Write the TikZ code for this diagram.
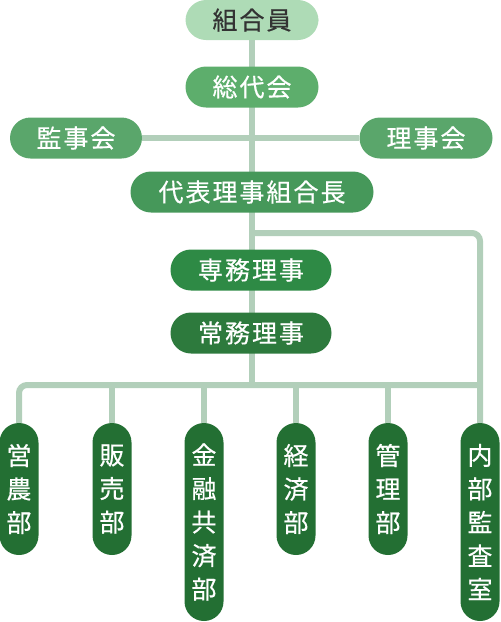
\documentclass[tikz,border=0pt]{standalone}
\usepackage{fontspec}
\setmainfont{Noto Sans CJK JP}[LetterSpace=8, FakeBold=0.5]
\usetikzlibrary{backgrounds}

\definecolor{linegreen}{HTML}{B2CFBA}
\definecolor{mint}{HTML}{AEDBB6}
\definecolor{gA}{HTML}{5DAE6C}
\definecolor{gB}{HTML}{5AA66B}
\definecolor{gC}{HTML}{46985A}
\definecolor{gD}{HTML}{2E8A45}
\definecolor{gE}{HTML}{2D7A3D}
\definecolor{gF}{HTML}{236F33}

\begin{document}
\begin{tikzpicture}[
x=1pt, y=1pt,
box/.style={
rounded corners=20.5pt,
text=white,
minimum height=41pt,
inner sep=0pt,
font=\fontsize{25}{30}\selectfont
},
vbox/.style={
rounded corners=19.5pt,
fill=gF,
text=white,
minimum width=39pt,
inner sep=0pt,
align=center,
font=\fontsize{25}{33.5}\selectfont
},
link/.style={
draw=linegreen,
line width=6pt
}
]
\useasboundingbox (0,0) rectangle (501,-622);

\node[box, fill=mint, text=black!80, minimum width=133pt, minimum height=40pt] (kumiai) at (252,-20) {組合員};
\node[box, fill=gA, minimum width=133pt] (sodai) at (252,-87) {総代会};

\node[box, fill=gB, minimum width=132pt] (kanji) at (76,-138) {監事会};
\node[box, fill=gB, minimum width=133pt] (riji) at (426,-138) {理事会};

\node[box, fill=gC, minimum width=243pt] (daihyo) at (252,-192) {代表理事組合長};

\node[box, fill=gD, minimum width=161pt] (senmu) at (251,-270) {専務理事};
\node[box, fill=gE, minimum width=161pt] (jomu) at (251,-333) {常務理事};

\node[vbox, minimum height=132pt] (eino) at (19,-489) {営\\農\\部};
\node[vbox, minimum height=132pt] (hanbai) at (112,-489) {販\\売\\部};
\node[vbox, minimum height=198pt] (kinyu) at (204,-522) {金\\融\\共\\済\\部};
\node[vbox, minimum height=132pt] (keizai) at (296,-489) {経\\済\\部};
\node[vbox, minimum height=132pt] (kanri) at (388,-489) {管\\理\\部};
\node[vbox, minimum height=198pt] (naibu) at (480,-522) {内\\部\\監\\査\\室};

\coordinate (br) at (252,-233);
\coordinate (bus) at (480,-385);

\begin{scope}[on background layer]
\draw[link] (kumiai.south -| br) -- (jomu.south -| br) -- (br |- bus);
\draw[link] (kanji.east) -- (riji.west);
\draw[link, rounded corners=8pt] (br) -| (naibu.north);
\draw[link, rounded corners=8pt] (eino.north) |- (bus);
\draw[link] (hanbai.north) -- (hanbai.north |- bus);
\draw[link] (kinyu.north) -- (kinyu.north |- bus);
\draw[link] (keizai.north) -- (keizai.north |- bus);
\draw[link] (kanri.north) -- (kanri.north |- bus);
\end{scope}

\end{tikzpicture}
\end{document}
